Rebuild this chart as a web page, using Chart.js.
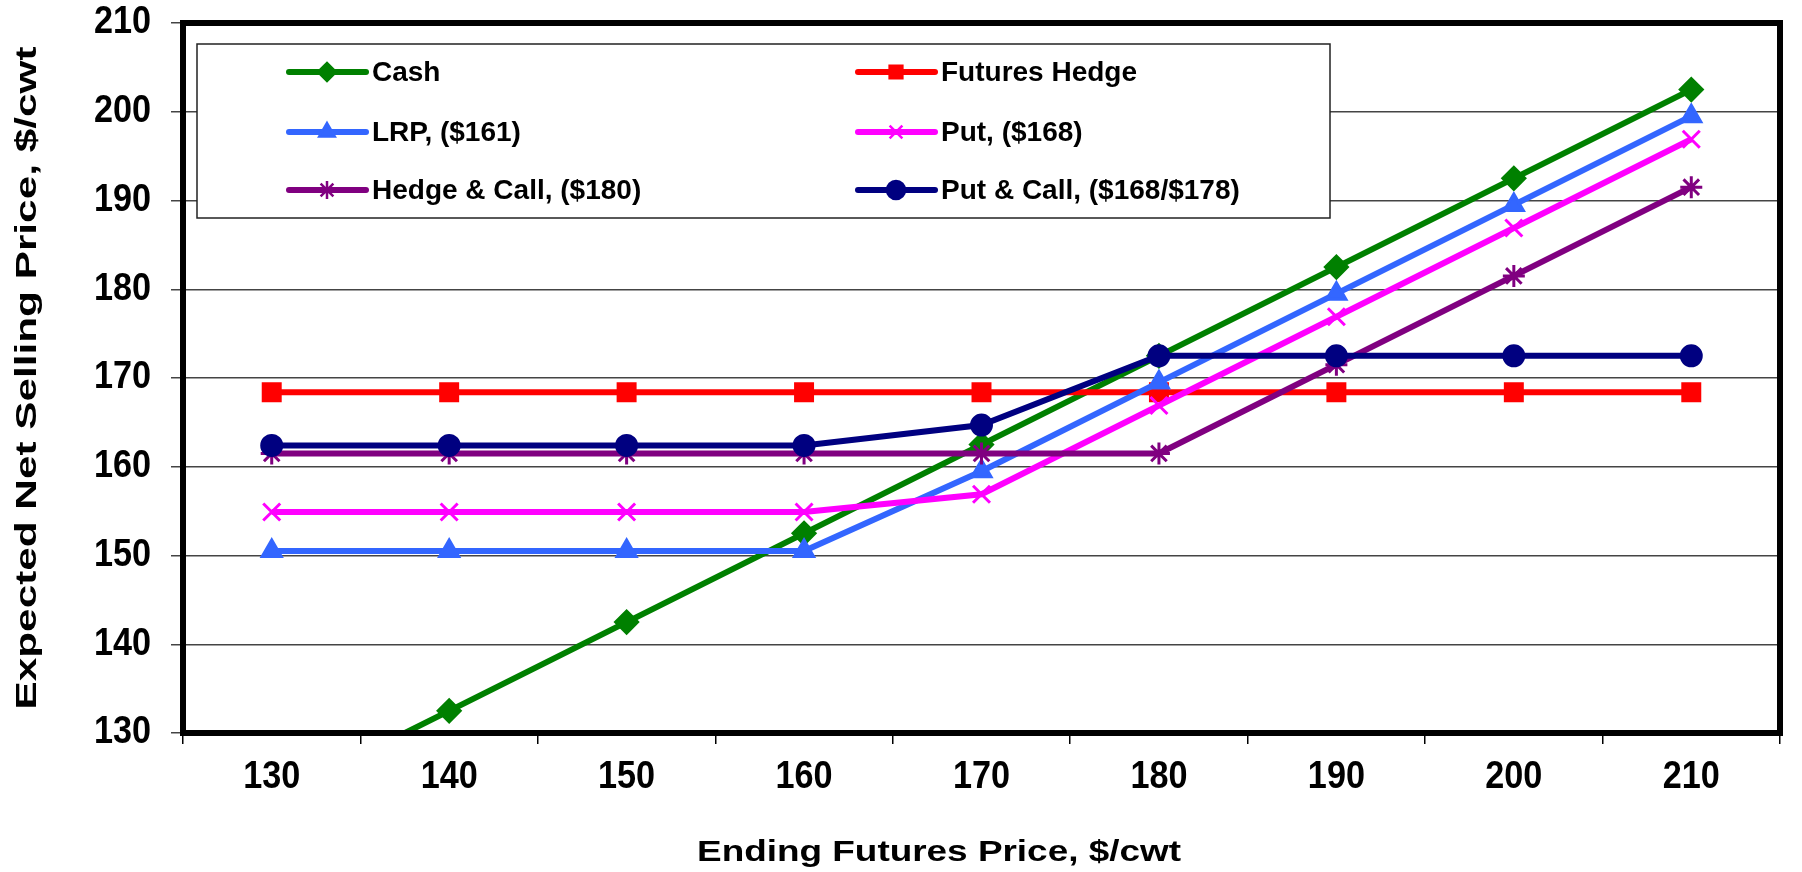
<!DOCTYPE html>
<html>
<head>
<meta charset="utf-8">
<script src="https://cdn.jsdelivr.net/npm/chart.js@4/dist/chart.umd.min.js"></script>
<style>
  html, body { margin: 0; padding: 0; background: #fff; }
  #wrap { width: 1802px; height: 872px; position: relative; }
</style>
</head>
<body>
<div id="wrap"><canvas id="hedgeChart"></canvas></div>
<script>
// ending futures price categories and y ticks
const futuresPrices = ['130', '140', '150', '160', '170', '180', '190', '200', '210'];
const yMin = 130, yMax = 210, yStep = 10;

// expected net selling price, $/cwt
const cash      = [122.5, 132.5, 142.5, 152.5, 162.5, 172.5, 182.5, 192.5, 202.5];
const futHedge  = [168.4, 168.4, 168.4, 168.4, 168.4, 168.4, 168.4, 168.4, 168.4];
const lrp       = [150.5, 150.5, 150.5, 150.5, 159.5, 169.5, 179.5, 189.5, 199.5];
const putOpt    = [154.9, 154.9, 154.9, 154.9, 156.9, 166.9, 176.9, 186.9, 196.9];
const hedgeCall = [161.5, 161.5, 161.5, 161.5, 161.5, 161.5, 171.5, 181.5, 191.5];
const putCall   = [162.4, 162.4, 162.4, 162.4, 164.7, 172.5, 172.5, 172.5, 172.5];

const seriesNames = ['Cash', 'Futures Hedge', 'LRP, ($161)', 'Put, ($168)', 'Hedge & Call, ($180)', 'Put & Call, ($168/$178)'];
const xTitle = 'Ending Futures Price, $/cwt';
const yTitle = 'Expected Net Selling Price, $/cwt';

const FONT = "'Liberation Sans', Arial, sans-serif";

function mkSet(label, data, color, style, radius) {
  return {
    label, data,
    borderColor: color, backgroundColor: color,
    borderWidth: 6,
    pointStyle: style, pointRadius: radius, pointHoverRadius: radius,
    pointBorderWidth: 3, pointBackgroundColor: color, pointBorderColor: color,
    tension: 0
  };
}

const datasets = [
  mkSet(seriesNames[0], cash, '#008000', 'rectRot', 11),
  mkSet(seriesNames[1], futHedge, '#FF0000', 'rect', 12),
  mkSet(seriesNames[2], lrp, '#3366FF', 'triangle', 11),
  mkSet(seriesNames[3], putOpt, '#FF00FF', 'crossRot', 12),
  mkSet(seriesNames[4], hedgeCall, '#800080', 'star', 11),
  mkSet(seriesNames[5], putCall, '#000080', 'circle', 10)
];
// excel draws the later series on top
datasets.forEach((d, i) => { d.order = datasets.length - i; });

// draw text squeezed/stretched along its run to match the original's look
function drawScaledText(ctx, text, x, y, sx, align) {
  ctx.save();
  ctx.translate(x, y);
  ctx.scale(sx, 1);
  ctx.textAlign = align;
  ctx.fillText(text, 0, 0);
  ctx.restore();
}

// heavy frame round the plot area
const frame = {
  id: 'frame',
  afterDatasetsDraw(chart) {
    const { ctx, chartArea: ca } = chart;
    ctx.save();
    ctx.strokeStyle = '#000';
    ctx.lineWidth = 6;
    ctx.strokeRect(ca.left, ca.top, ca.right - ca.left, ca.bottom - ca.top);
    ctx.restore();
  }
};

// tick labels + axis titles
const axisText = {
  id: 'axisText',
  afterDraw(chart) {
    const { ctx, scales: { x, y } } = chart;
    ctx.save();
    ctx.fillStyle = '#000';
    ctx.textBaseline = 'middle';
    ctx.font = 'bold 38px ' + FONT;
    x.ticks.forEach((t, i) => {
      drawScaledText(ctx, x.getLabelForValue(t.value), x.getPixelForTick(i), 778, 0.9, 'center');
    });
    y.ticks.forEach(t => {
      drawScaledText(ctx, String(t.value), 151, y.getPixelForValue(t.value), 0.9, 'right');
    });
    ctx.font = 'bold 30px ' + FONT;
    drawScaledText(ctx, xTitle, 939, 853, 1.23, 'center');
    ctx.save();
    ctx.translate(28, 378);
    ctx.rotate(-Math.PI / 2);
    drawScaledText(ctx, yTitle, 0, 0, 1.41, 'center');
    ctx.restore();
    ctx.restore();
  }
};

// legend box drawn inside the plot, two columns like the original
const boxLegend = {
  id: 'boxLegend',
  afterDraw(chart) {
    const { ctx, chartArea: ca } = chart;
    const bx = ca.left + 14, by = ca.top + 21, bw = 1133, bh = 174;
    ctx.save();
    ctx.fillStyle = '#fff';
    ctx.fillRect(bx, by, bw, bh);
    ctx.strokeStyle = '#222';
    ctx.lineWidth = 1.5;
    ctx.strokeRect(bx, by, bw, bh);
    const colX = [bx + 92, bx + 661];
    const rowY = [by + 28, by + 88, by + 146];
    chart.data.datasets.forEach((ds, i) => {
      const lx = colX[i % 2], ly = rowY[Math.floor(i / 2)];
      ctx.strokeStyle = ds.borderColor;
      ctx.fillStyle = ds.borderColor;
      ctx.lineWidth = 6;
      ctx.lineCap = 'round';
      ctx.beginPath();
      ctx.moveTo(lx, ly);
      ctx.lineTo(lx + 77, ly);
      ctx.stroke();
      ctx.lineCap = 'butt';
      ctx.lineWidth = 2.5;
      Chart.helpers.drawPoint(ctx, { pointStyle: ds.pointStyle, radius: 9, borderWidth: 2.5, rotation: 0 }, lx + 38, ly);
      ctx.fillStyle = '#000';
      ctx.font = 'bold 28px ' + FONT;
      ctx.textBaseline = 'middle';
      ctx.textAlign = 'left';
      ctx.fillText(ds.label, lx + 83, ly + 1);
    });
    ctx.restore();
  }
};

new Chart(document.getElementById('hedgeChart'), {
  type: 'line',
  data: { labels: futuresPrices, datasets },
  options: {
    responsive: true, maintainAspectRatio: false, animation: false,
    layout: { padding: { top: 23, right: 22, left: 0, bottom: 0 } },
    plugins: { legend: { display: false }, tooltip: { enabled: false } },
    scales: {
      x: {
        offset: true,
        grid: { display: true, drawOnChartArea: false, drawTicks: true, tickLength: 11, color: '#000', lineWidth: 1.5, offset: true },
        border: { display: true, color: '#000', width: 6 },
        ticks: { display: false },
        afterFit(scale) { scale.height = 139; }
      },
      y: {
        min: yMin, max: yMax,
        ticks: { stepSize: yStep, display: false },
        grid: { color: '#444', lineWidth: 1.5, tickLength: 12 },
        border: { display: true, color: '#000', width: 6 },
        afterFit(scale) { scale.width = 183; }
      }
    }
  },
  plugins: [frame, boxLegend, axisText]
});
</script>
</body>
</html>
